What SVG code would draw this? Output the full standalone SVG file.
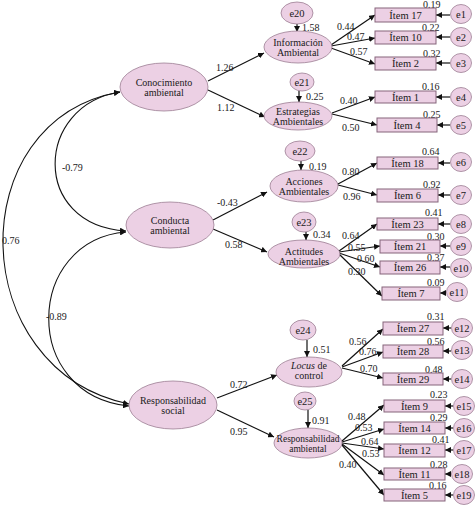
<svg xmlns="http://www.w3.org/2000/svg" width="476" height="506" viewBox="0 0 476 506">
<style>
.lat{fill:#ecd0e4;stroke:#9c7d93;stroke-width:0.8}
.item{fill:#ecd0e4;stroke:#85657b;stroke-width:1}
.t{font-family:"Liberation Serif","Times New Roman",serif;font-size:10px;fill:#1a1a1a}
.ti{font-size:10.5px}
.c{text-anchor:middle}
.ln{stroke:#111;stroke-width:1.2;fill:none;marker-end:url(#ah)}
.cv{stroke:#111;stroke-width:1.1;fill:none;marker-start:url(#ah);marker-end:url(#ah)}
</style>
<defs>
<marker id="ah" viewBox="0 0 10 10" refX="10" refY="5" markerWidth="6" markerHeight="6" markerUnits="userSpaceOnUse" orient="auto-start-reverse"><path d="M0,0 L10,5 L0,10 z" fill="#111"/></marker>
</defs>
<rect width="476" height="506" fill="#fff"/>

<g id="connectors">
<path class="cv" d="M120,92 C-40,120 -35,370 129,404"/>
<path class="cv" d="M120,92 C35,105 30,225 126,231"/>
<path class="cv" d="M126,232 C25,240 20,395 129,406"/>
<path class="ln" d="M208,81 L264,53"/>
<path class="ln" d="M208,90 L265,117"/>
<path class="ln" d="M213,220 L267,192"/>
<path class="ln" d="M213,229 L267,252"/>
<path class="ln" d="M217,398 L277,375"/>
<path class="ln" d="M217,410 L274,437"/>
<path class="ln" d="M297,24 L297,32"/>
<path class="ln" d="M299,91 L299,102"/>
<path class="ln" d="M301,161 L301,170"/>
<path class="ln" d="M306,232 L306,240"/>
<path class="ln" d="M307,340 L307,357"/>
<path class="ln" d="M308,410 L308,428"/>
<path class="ln" d="M331,45 L375,15"/>
<path class="ln" d="M331,46 L375,38"/>
<path class="ln" d="M331,48 L375,64"/>
<path class="ln" d="M332,113 L375,97"/>
<path class="ln" d="M332,114 L377,125"/>
<path class="ln" d="M338,184 L377,163"/>
<path class="ln" d="M338,185 L377,195"/>
<path class="ln" d="M339,251 L377,224"/>
<path class="ln" d="M339,252 L380,246"/>
<path class="ln" d="M339,253 L380,267"/>
<path class="ln" d="M339,254 L382,296"/>
<path class="ln" d="M342,366 L383,329"/>
<path class="ln" d="M342,367 L383,352"/>
<path class="ln" d="M342,368 L383,378"/>
<path class="ln" d="M342,441 L384,405"/>
<path class="ln" d="M342,442 L384,429"/>
<path class="ln" d="M342,443 L384,449"/>
<path class="ln" d="M342,444 L384,475"/>
<path class="ln" d="M342,445 L384,495"/>
<path class="ln" d="M450,15 L436,15"/>
<path class="ln" d="M450,37 L436,37"/>
<path class="ln" d="M450,63 L436,63"/>
<path class="ln" d="M450,97 L436,97"/>
<path class="ln" d="M450,125 L437,125"/>
<path class="ln" d="M450,163 L438,163"/>
<path class="ln" d="M450,195 L438,195"/>
<path class="ln" d="M450,224 L438,224"/>
<path class="ln" d="M450,246 L440,246"/>
<path class="ln" d="M450,267 L440,267"/>
<path class="ln" d="M446,293 L440,293"/>
<path class="ln" d="M451,328 L443,328"/>
<path class="ln" d="M451,351 L443,351"/>
<path class="ln" d="M451,379 L443,379"/>
<path class="ln" d="M453,406 L445,406"/>
<path class="ln" d="M453,428 L445,428"/>
<path class="ln" d="M453,450 L445,450"/>
<path class="ln" d="M451,474 L445,474"/>
<path class="ln" d="M453,495 L445,495"/>
<g class="t">
<text x="2" y="244">0.76</text>
<text x="62" y="171">-0.79</text>
<text x="46" y="320">-0.89</text>
<text x="216" y="71">1.26</text>
<text x="217" y="111">1.12</text>
<text x="217" y="206">-0.43</text>
<text x="225" y="248">0.58</text>
<text x="230" y="388">0.72</text>
<text x="230" y="435">0.95</text>
<text x="302" y="31">1.58</text>
<text x="306" y="100">0.25</text>
<text x="309" y="170">0.19</text>
<text x="313" y="238">0.34</text>
<text x="313" y="353">0.51</text>
<text x="312" y="424">0.91</text>
<text x="337" y="30">0.44</text>
<text x="347" y="40">0.47</text>
<text x="350" y="55">0.57</text>
<text x="340" y="104">0.40</text>
<text x="342" y="131">0.50</text>
<text x="342" y="175">0.80</text>
<text x="343" y="200">0.96</text>
<text x="342" y="239">0.64</text>
<text x="348" y="251">0.55</text>
<text x="357" y="262">0.60</text>
<text x="348" y="275">0.30</text>
<text x="349" y="345">0.56</text>
<text x="359" y="355">0.76</text>
<text x="360" y="372">0.70</text>
<text x="348" y="420">0.48</text>
<text x="355" y="431">0.53</text>
<text x="361" y="445">0.64</text>
<text x="362" y="457">0.53</text>
<text x="339" y="468">0.40</text>
<text x="423" y="8">0.19</text>
<text x="422" y="31">0.22</text>
<text x="423" y="57">0.32</text>
<text x="422" y="90">0.16</text>
<text x="423" y="118">0.25</text>
<text x="422" y="155">0.64</text>
<text x="423" y="188">0.92</text>
<text x="425" y="216">0.41</text>
<text x="427" y="240">0.30</text>
<text x="427" y="261">0.37</text>
<text x="427" y="286">0.09</text>
<text x="427" y="320">0.31</text>
<text x="427" y="345">0.56</text>
<text x="425" y="373">0.48</text>
<text x="430" y="398">0.23</text>
<text x="430" y="421">0.29</text>
<text x="432" y="443">0.41</text>
<text x="430" y="468">0.28</text>
<text x="429" y="489">0.16</text>
</g>
</g>

<g id="conocimiento"><ellipse class="lat" cx="164" cy="87" rx="44" ry="24"/><text class="t c" x="164" y="86">Conocimiento</text><text class="t c" x="164" y="96">ambiental</text></g>
<g id="conducta"><ellipse class="lat" cx="170" cy="225" rx="44" ry="23"/><text class="t c" x="170" y="224">Conducta</text><text class="t c" x="170" y="234">ambiental</text></g>
<g id="resp-social"><ellipse class="lat" cx="173" cy="405" rx="44" ry="24"/><text class="t c" x="173" y="404">Responsabilidad</text><text class="t c" x="173" y="414">social</text></g>

<g id="informacion"><ellipse class="lat" cx="298" cy="47" rx="34" ry="16"/><text class="t c" x="298" y="46">Información</text><text class="t c" x="298" y="56">Ambiental</text></g>
<g id="estrategias"><ellipse class="lat" cx="298" cy="116" rx="34" ry="14"/><text class="t c" x="298" y="115">Estrategias</text><text class="t c" x="298" y="125">Ambientales</text></g>
<g id="acciones"><ellipse class="lat" cx="304" cy="186" rx="34" ry="16"/><text class="t c" x="304" y="185">Acciones</text><text class="t c" x="304" y="195">Ambientales</text></g>
<g id="actitudes"><ellipse class="lat" cx="304" cy="254" rx="36" ry="14"/><text class="t c" x="304" y="255">Actitudes</text><text class="t c" x="304" y="265">Ambientales</text></g>
<g id="locus"><ellipse class="lat" cx="309" cy="372" rx="33" ry="15"/><text class="t c" x="309" y="369"><tspan font-style="italic">Locus</tspan> de</text><text class="t c" x="309" y="379">control</text></g>
<g id="resp-ambiental"><ellipse class="lat" cx="308" cy="443" rx="34" ry="15"/><text class="t c" x="308" y="442" style="font-size:9.5px">Responsabilidad</text><text class="t c" x="308" y="452" style="font-size:9.5px">ambiental</text></g>

<g id="e20"><ellipse class="lat" cx="297" cy="13" rx="16" ry="11"/><text class="t ti c" x="297" y="17">e20</text></g>
<g id="e21"><ellipse class="lat" cx="302" cy="82" rx="12" ry="9"/><text class="t ti c" x="302" y="86">e21</text></g>
<g id="e22"><ellipse class="lat" cx="300" cy="151" rx="15" ry="10"/><text class="t ti c" x="300" y="155">e22</text></g>
<g id="e23"><ellipse class="lat" cx="304" cy="222" rx="12" ry="10"/><text class="t ti c" x="304" y="226">e23</text></g>
<g id="e24"><ellipse class="lat" cx="303" cy="330" rx="13" ry="10"/><text class="t ti c" x="303" y="334">e24</text></g>
<g id="e25"><ellipse class="lat" cx="305" cy="401" rx="11" ry="9"/><text class="t ti c" x="305" y="405">e25</text></g>

<g id="item17"><rect class="item" x="375" y="8" width="61" height="14"/><text class="t ti c" x="405.5" y="19">Ítem 17</text></g>
<g id="item10"><rect class="item" x="375" y="31" width="61" height="13"/><text class="t ti c" x="405.5" y="41">Ítem 10</text></g>
<g id="item2"><rect class="item" x="375" y="57" width="61" height="13"/><text class="t ti c" x="405.5" y="67">Ítem 2</text></g>
<g id="item1"><rect class="item" x="375" y="91" width="61" height="12"/><text class="t ti c" x="405.5" y="101">Ítem 1</text></g>
<g id="item4"><rect class="item" x="377" y="118" width="60" height="14"/><text class="t ti c" x="407" y="129">Ítem 4</text></g>
<g id="item18"><rect class="item" x="377" y="157" width="61" height="12"/><text class="t ti c" x="407.5" y="167">Ítem 18</text></g>
<g id="item6"><rect class="item" x="377" y="189" width="61" height="13"/><text class="t ti c" x="407.5" y="199">Ítem 6</text></g>
<g id="item23"><rect class="item" x="377" y="218" width="61" height="12"/><text class="t ti c" x="407.5" y="228">Ítem 23</text></g>
<g id="item21"><rect class="item" x="380" y="240" width="60" height="13"/><text class="t ti c" x="410" y="250">Ítem 21</text></g>
<g id="item26"><rect class="item" x="380" y="261" width="60" height="13"/><text class="t ti c" x="410" y="271">Ítem 26</text></g>
<g id="item7"><rect class="item" x="382" y="287" width="58" height="13"/><text class="t ti c" x="411" y="297">Ítem 7</text></g>
<g id="item27"><rect class="item" x="383" y="322" width="60" height="13"/><text class="t ti c" x="413" y="332">Ítem 27</text></g>
<g id="item28"><rect class="item" x="383" y="345" width="60" height="13"/><text class="t ti c" x="413" y="355">Ítem 28</text></g>
<g id="item29"><rect class="item" x="383" y="373" width="60" height="12"/><text class="t ti c" x="413" y="383">Ítem 29</text></g>
<g id="item9"><rect class="item" x="384" y="400" width="61" height="12"/><text class="t ti c" x="414.5" y="410">Ítem 9</text></g>
<g id="item14"><rect class="item" x="384" y="422" width="61" height="12"/><text class="t ti c" x="414.5" y="432">Ítem 14</text></g>
<g id="item12"><rect class="item" x="384" y="444" width="61" height="13"/><text class="t ti c" x="414.5" y="454">Ítem 12</text></g>
<g id="item11"><rect class="item" x="384" y="468" width="61" height="12"/><text class="t ti c" x="414.5" y="478">Ítem 11</text></g>
<g id="item5"><rect class="item" x="384" y="489" width="61" height="12"/><text class="t ti c" x="414.5" y="499">Ítem 5</text></g>

<g id="e1"><ellipse class="lat" cx="461" cy="14" rx="10.5" ry="9.5"/><text class="t ti c" x="461" y="18">e1</text></g>
<g id="e2"><ellipse class="lat" cx="461" cy="37" rx="10.5" ry="9.5"/><text class="t ti c" x="461" y="41">e2</text></g>
<g id="e3"><ellipse class="lat" cx="461" cy="63" rx="10.5" ry="9.5"/><text class="t ti c" x="461" y="67">e3</text></g>
<g id="e4"><ellipse class="lat" cx="461" cy="97" rx="10.5" ry="9.5"/><text class="t ti c" x="461" y="101">e4</text></g>
<g id="e5"><ellipse class="lat" cx="461" cy="125" rx="10.5" ry="9.5"/><text class="t ti c" x="461" y="129">e5</text></g>
<g id="e6"><ellipse class="lat" cx="461" cy="162" rx="10.5" ry="9.5"/><text class="t ti c" x="461" y="166">e6</text></g>
<g id="e7"><ellipse class="lat" cx="461" cy="195" rx="10.5" ry="9.5"/><text class="t ti c" x="461" y="199">e7</text></g>
<g id="e8"><ellipse class="lat" cx="461" cy="224" rx="10.5" ry="9.5"/><text class="t ti c" x="461" y="228">e8</text></g>
<g id="e9"><ellipse class="lat" cx="461" cy="246" rx="10.5" ry="9.5"/><text class="t ti c" x="461" y="250">e9</text></g>
<g id="e10"><ellipse class="lat" cx="461" cy="268" rx="10.5" ry="9.5"/><text class="t ti c" x="461" y="272">e10</text></g>
<g id="e11"><ellipse class="lat" cx="457" cy="292" rx="10.5" ry="9.5"/><text class="t ti c" x="457" y="296">e11</text></g>
<g id="e12"><ellipse class="lat" cx="462" cy="328" rx="10.5" ry="9.5"/><text class="t ti c" x="462" y="332">e12</text></g>
<g id="e13"><ellipse class="lat" cx="462" cy="350" rx="10.5" ry="9.5"/><text class="t ti c" x="462" y="354">e13</text></g>
<g id="e14"><ellipse class="lat" cx="462" cy="379" rx="10.5" ry="9.5"/><text class="t ti c" x="462" y="383">e14</text></g>
<g id="e15"><ellipse class="lat" cx="464" cy="406" rx="10.5" ry="9.5"/><text class="t ti c" x="464" y="410">e15</text></g>
<g id="e16"><ellipse class="lat" cx="464" cy="428" rx="10.5" ry="9.5"/><text class="t ti c" x="464" y="432">e16</text></g>
<g id="e17"><ellipse class="lat" cx="464" cy="450" rx="10.5" ry="9.5"/><text class="t ti c" x="464" y="454">e17</text></g>
<g id="e18"><ellipse class="lat" cx="462" cy="474" rx="10.5" ry="9.5"/><text class="t ti c" x="462" y="478">e18</text></g>
<g id="e19"><ellipse class="lat" cx="464" cy="495" rx="10.5" ry="9.5"/><text class="t ti c" x="464" y="499">e19</text></g>
</svg>
